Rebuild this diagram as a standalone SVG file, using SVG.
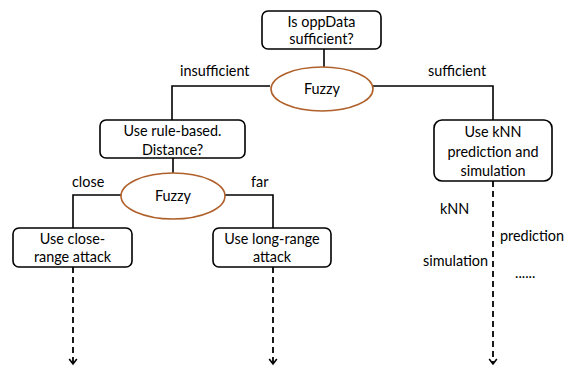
<svg xmlns="http://www.w3.org/2000/svg" width="567" height="367" viewBox="0 0 567 367">
<defs>
<marker id="chev" markerWidth="10" markerHeight="10" refX="7" refY="5" orient="auto" markerUnits="userSpaceOnUse" viewBox="0 0 10 10">
<path d="M2,1.2 L7,5 L2,8.8" fill="none" stroke="#000" stroke-width="1.6"/>
</marker>
<style>
.box{fill:#fff;stroke:#000;stroke-width:1.6}
.ell{fill:#fff;stroke:#b0602a;stroke-width:1.6}
.ln{fill:none;stroke:#000;stroke-width:1.6}
.dash{fill:none;stroke:#000;stroke-width:1.8;stroke-dasharray:6 4}
text{font-family:Lato,"Open Sans","DejaVu Sans",sans-serif;font-size:14.4px;fill:#000;text-anchor:middle}
.lbl{text-anchor:start}
</style>
</defs>
<rect width="567" height="367" fill="#fff"/>
<g id="connectors">
<path class="ln" d="M324,49 V67"/>
<path class="ln" d="M270,86 H172 V121"/>
<path class="ln" d="M373,86 H493 V121"/>
<path class="ln" d="M173,158 V173"/>
<path class="ln" d="M121,195 H73 V228"/>
<path class="ln" d="M225,195 H273 V228"/>
<path class="dash" d="M73,267 V364" marker-end="url(#chev)"/>
<path class="dash" d="M273,267 V364" marker-end="url(#chev)"/>
<path class="dash" d="M493,181 V364" marker-end="url(#chev)"/>
</g>
<g id="labels">
<text class="lbl" x="180" y="76">insufficient</text>
<text class="lbl" x="428" y="76">sufficient</text>
<text class="lbl" x="72" y="187">close</text>
<text class="lbl" x="251" y="187">far</text>
<text class="lbl" x="440" y="214">kNN</text>
<text class="lbl" x="500" y="241">prediction</text>
<text class="lbl" x="423" y="266">simulation</text>
<text class="lbl" x="515" y="278">......</text>
</g>
<g id="n_start">
<rect class="box" x="262" y="11" width="119" height="38" rx="6"/>
<text x="321.5" y="27">Is oppData</text>
<text x="321.5" y="44">sufficient?</text>
</g>
<g id="n_fuzzy1">
<ellipse class="ell" cx="322" cy="89" rx="51" ry="22"/>
<text x="322" y="94">Fuzzy</text>
</g>
<g id="n_rule">
<rect class="box" x="100" y="120" width="145" height="38" rx="6"/>
<text x="172.5" y="136">Use rule-based.</text>
<text x="172.5" y="155">Distance?</text>
</g>
<g id="n_knn">
<rect class="box" x="434" y="120" width="118" height="61" rx="8"/>
<text x="493" y="137">Use kNN</text>
<text x="493" y="157">prediction and</text>
<text x="493" y="176">simulation</text>
</g>
<g id="n_fuzzy2">
<ellipse class="ell" cx="173" cy="196" rx="52" ry="23"/>
<text x="173" y="201">Fuzzy</text>
</g>
<g id="n_close">
<rect class="box" x="13" y="228" width="119" height="39" rx="6"/>
<text x="72.5" y="244">Use close-</text>
<text x="72.5" y="262">range attack</text>
</g>
<g id="n_long">
<rect class="box" x="213" y="228" width="118" height="39" rx="6"/>
<text x="272" y="244">Use long-range</text>
<text x="272" y="262">attack</text>
</g>
</svg>
